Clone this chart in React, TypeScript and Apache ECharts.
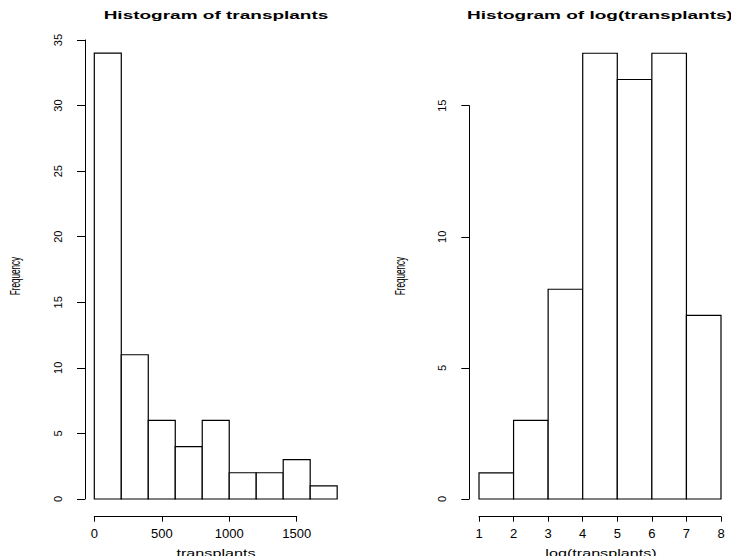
import React, { useEffect, useRef } from "react";
import * as echarts from "echarts";

// ---- data ----
const leftBinEdges = [0, 200, 400, 600, 800, 1000, 1200, 1400, 1600, 1800];
const leftCounts = [34, 11, 6, 4, 6, 2, 2, 3, 1];
const rightBinEdges = [1, 2, 3, 4, 5, 6, 7, 8];
const rightCounts = [1, 3, 8, 17, 16, 17, 7];

const titles = ["Histogram of transplants", "Histogram of log(transplants)"];
const xNames = ["transplants", "log(transplants)"];
const yName = "Frequency";

// tick ranges: [min, max, interval]
const leftXTicks = [0, 1500, 500];
const leftYTicks = [0, 35, 5];
const rightXTicks = [1, 8, 1];
const rightYTicks = [0, 15, 5];

const FONT = "Liberation Sans, Arial, Helvetica, sans-serif";

function binData(edges: number[], counts: number[]) {
  return counts.map((c, i) => [edges[i], edges[i + 1], c]);
}

const renderBar = (params: any, api: any) => {
  const x0 = api.value(0);
  const x1 = api.value(1);
  const c = api.value(2);
  const p0 = api.coord([x0, c]);
  const p1 = api.coord([x1, 0]);
  return {
    type: "rect",
    shape: { x: p0[0], y: p0[1], width: p1[0] - p0[0], height: p1[1] - p0[1] },
    style: { fill: "#ffffff", stroke: "#000000", lineWidth: 1.2 },
  };
};

const plain = (v: number) => String(v);

function xAxisOpt(gridIndex: number, t: number[]) {
  return {
    type: "value",
    gridIndex,
    min: t[0],
    max: t[1],
    interval: t[2],
    offset: 17.7,
    position: "bottom",
    splitLine: { show: false },
    axisLine: { show: true, onZero: false, lineStyle: { color: "#000", width: 1 } },
    axisTick: { show: true, length: 5, lineStyle: { color: "#000", width: 1 } },
    axisLabel: { fontFamily: FONT, fontSize: 13, color: "#000", margin: 10, formatter: plain },
  };
}

function yAxisOpt(gridIndex: number, t: number[], offset: number) {
  return {
    type: "value",
    gridIndex,
    min: t[0],
    max: t[1],
    interval: t[2],
    offset,
    position: "left",
    splitLine: { show: false },
    axisLine: { show: true, onZero: false, lineStyle: { color: "#000", width: 1 } },
    axisTick: { show: true, length: 8, lineStyle: { color: "#000", width: 1 } },
    axisLabel: { fontFamily: FONT, fontSize: 11, color: "#000", rotate: 90, margin: 22, formatter: plain },
  };
}

export default function App() {
  const ref = useRef<HTMLDivElement>(null);
  useEffect(() => {
    if (!ref.current) return;
    const chart = echarts.init(ref.current, null, { renderer: "svg" });
    const textEl = (text: string, x: number, y: number, size: number, bold: boolean, sx: number, rot = 0) => ({
      type: "text",
      x,
      y,
      rotation: rot,
      scaleX: sx,
      scaleY: 1,
      style: {
        text,
        fill: "#000",
        font: `${bold ? "bold " : ""}${size}px ${FONT}`,
        textAlign: "center",
        textVerticalAlign: "middle",
      },
    });
    chart.setOption({
      animation: false,
      backgroundColor: "#ffffff",
      grid: [
        { left: 94.3, top: 40, width: 202.4, height: 459, outerBoundsMode: "none", containLabel: false },
        { left: 479, top: 105.7, width: 242, height: 393.3, outerBoundsMode: "none", containLabel: false },
      ],
      xAxis: [xAxisOpt(0, leftXTicks), xAxisOpt(1, rightXTicks)],
      yAxis: [yAxisOpt(0, leftYTicks, 9.3), yAxisOpt(1, rightYTicks, 9.7)],
      series: [
        {
          type: "custom",
          xAxisIndex: 0,
          yAxisIndex: 0,
          clip: false,
          renderItem: renderBar,
          encode: { x: [0, 1], y: 2 },
          data: binData(leftBinEdges, leftCounts),
        },
        {
          type: "custom",
          xAxisIndex: 1,
          yAxisIndex: 1,
          clip: false,
          renderItem: renderBar,
          encode: { x: [0, 1], y: 2 },
          data: binData(rightBinEdges, rightCounts),
        },
      ],
      graphic: [
        textEl(titles[0], 216, 15, 10, true, 1.9),
        textEl(titles[1], 600, 15, 10, true, 1.9),
        textEl(xNames[0], 216, 553, 11, false, 1.47),
        textEl(xNames[1], 601, 553, 11, false, 1.47),
        textEl(yName, 15, 276, 14, false, 0.58, Math.PI / 2),
        textEl(yName, 400, 276, 14, false, 0.58, Math.PI / 2),
      ],
    });
    return () => chart.dispose();
  }, []);
  return (
    <div
      ref={ref}
      style={{ position: "fixed", left: 0, top: 0, width: 731, height: 556, background: "#fff" }}
    />
  );
}
